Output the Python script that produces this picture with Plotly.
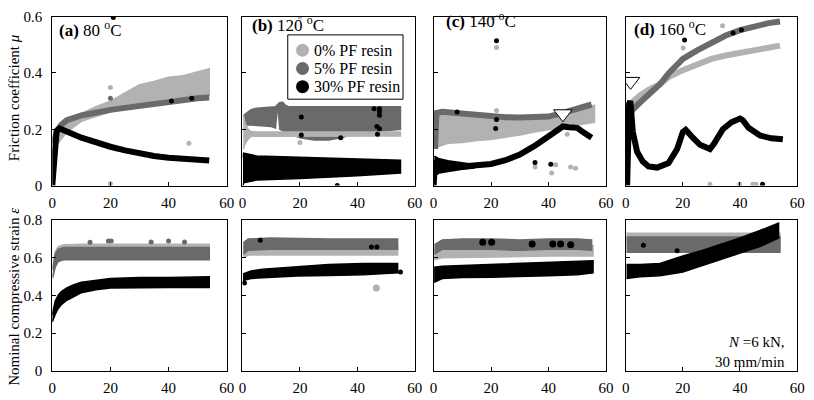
import plotly.graph_objects as go
from plotly.subplots import make_subplots

# ---------------- colours ----------------
C0 = "#b2b2b2"   # 0% PF resin
C5 = "#6a6a6a"   # 5% PF resin
C30 = "#000000"  # 30% PF resin

# ---------------- (a) 80 C friction ----------------
a0_t = [0.3, 1, 2, 5, 10, 15, 20, 25, 30, 35, 40, 45, 50, 54]
a0_hi = [0.16, 0.17, 0.19, 0.22, 0.256, 0.28, 0.30, 0.33, 0.358, 0.37, 0.385, 0.39, 0.405, 0.415]
a0_lo = [0.12, 0.13, 0.15, 0.19, 0.228, 0.245, 0.262, 0.275, 0.29, 0.30, 0.31, 0.315, 0.32, 0.32]
a5_t = [0.3, 1, 2, 3, 5, 10, 15, 20, 25, 30, 35, 40, 45, 50, 54]
a5_mu = [0.15, 0.18, 0.2, 0.215, 0.232, 0.249, 0.26, 0.269, 0.276, 0.283, 0.292, 0.30, 0.305, 0.31, 0.313]
a30_t = [0, 0.3, 0.8, 1.5, 2.5, 4, 6, 10, 15, 20, 25, 30, 35, 40, 45, 50, 54]
a30_mu = [0.0, 0.05, 0.15, 0.195, 0.203, 0.198, 0.188, 0.17, 0.152, 0.138, 0.125, 0.113, 0.105, 0.099, 0.095, 0.091, 0.089]
a_out0_t = [20, 33, 47, 47, 20]
a_out0 = [0.348, 0.338, 0.378, 0.15, 0.007]
a_out5_t = [20]
a_out5 = [0.31]
a_out30_t = [21, 41, 48]
a_out30 = [0.597, 0.30, 0.31]

# ---------------- (b) 120 C friction ----------------
b5_t = [0.5, 3, 5, 10, 11.5, 12, 12.5, 13, 14, 15, 16, 20, 25, 30, 35, 40, 50, 55]
b5_hi = [0.25, 0.27, 0.275, 0.278, 0.28, 0.285, 0.29, 0.295, 0.296, 0.285, 0.28, 0.28, 0.28, 0.28, 0.28, 0.28, 0.28, 0.28]
b5_lo = [0.215, 0.215, 0.215, 0.21, 0.205, 0.26, 0.265, 0.2, 0.195, 0.19, 0.185, 0.17, 0.162, 0.162, 0.172, 0.188, 0.195, 0.2]
b0_t = [0.3, 1, 2, 3, 5, 55]
b0_hi = [0.25, 0.22, 0.2, 0.192, 0.19, 0.19]
b0_lo = [0.13, 0.15, 0.165, 0.175, 0.176, 0.176]
b30_t = [0.2, 0.4, 5, 20, 40, 55]
b30_hi = [0.1, 0.115, 0.105, 0.1, 0.095, 0.09]
b30_lo = [0.0, 0.01, 0.02, 0.025, 0.035, 0.045]
b_out0_t = [20, 20]
b_out0 = [0.6, 0.153]
b_out30_t = [20.5, 20.5, 34.2, 45.8, 47.7, 47.7, 47.7, 46.8, 47.7, 47, 33]
b_out30 = [0.244, 0.18, 0.17, 0.273, 0.273, 0.262, 0.25, 0.21, 0.202, 0.182, 0.0]

# ---------------- (c) 140 C friction ----------------
c0_t = [1, 2, 5, 10, 15, 20, 25, 30, 35, 40, 45, 50, 56]
c0_hi = [0.25, 0.255, 0.25, 0.245, 0.24, 0.235, 0.232, 0.232, 0.233, 0.236, 0.25, 0.268, 0.285]
c0_lo = [0.13, 0.14, 0.15, 0.153, 0.16, 0.164, 0.172, 0.18, 0.19, 0.2, 0.207, 0.215, 0.225]
c5_t = [0.5, 0.6, 1, 3, 5, 10, 15, 20, 25, 30, 35, 40, 45, 50, 55]
c5_mu = [0.13, 0.2, 0.258, 0.262, 0.26, 0.255, 0.25, 0.246, 0.243, 0.242, 0.242, 0.245, 0.258, 0.272, 0.288]
c30b_t = [0.3, 2, 5, 10, 14]
c30b_hi = [0.105, 0.095, 0.088, 0.08, 0.075]
c30b_lo = [0.035, 0.045, 0.05, 0.058, 0.062]
c30_t = [0, 0.3, 0.6, 1, 2, 5, 10, 15, 20, 25, 30, 35, 40, 43, 45, 47, 50, 52, 55]
c30_mu = [0, 0.05, 0.09, 0.08, 0.075, 0.07, 0.068, 0.07, 0.077, 0.09, 0.11, 0.14, 0.175, 0.198, 0.21, 0.207, 0.205, 0.19, 0.17]
c_out0_t = [20.6, 21.9, 20.2, 29.7, 35.3, 41.1, 42.5, 47.7, 49.4, 46.5, 21.9]
c_out0 = [0.597, 0.49, 0.216, 0.19, 0.066, 0.045, 0.074, 0.066, 0.062, 0.182, 0.267]
c_out30_t = [21.9, 8.2, 21.9, 21.6, 35.3, 40.8]
c_out30 = [0.514, 0.261, 0.235, 0.203, 0.082, 0.076]

# ---------------- (d) 160 C friction ----------------
d0_t = [1.5, 2.5, 5, 8, 12, 15, 20, 25, 30, 35, 40, 45, 50, 54]
d0_mu = [0.285, 0.298, 0.32, 0.34, 0.36, 0.385, 0.41, 0.43, 0.45, 0.462, 0.472, 0.482, 0.492, 0.497]
d5_t = [1.5, 2.5, 5, 8, 12, 15, 20, 25, 30, 35, 40, 45, 50, 54]
d5_mu = [0.25, 0.27, 0.295, 0.325, 0.36, 0.398, 0.45, 0.48, 0.505, 0.533, 0.552, 0.567, 0.577, 0.583]
d30_t = [0.5, 0.8, 1.2, 1.6, 2.5, 4, 6, 8, 11, 15, 18, 20, 21, 23.5, 26, 29.5, 31, 34, 37, 40, 41, 43, 47, 51, 55]
d30_mu = [0.0, 0.2, 0.29, 0.3, 0.19, 0.12, 0.085, 0.068, 0.064, 0.08, 0.13, 0.19, 0.198, 0.17, 0.145, 0.13, 0.15, 0.2, 0.225, 0.238, 0.232, 0.205, 0.178, 0.168, 0.165]
d_out0_t = [33.9, 20.1, 29.5, 39.9, 44.5, 45.6]
d_out0 = [0.568, 0.489, 0.005, 0.005, 0.005, 0.005]
d_out30_t = [37.6, 40.5, 20.6, 47.9]
d_out30 = [0.542, 0.553, 0.517, 0.005]
tri_t = [45.0, 1.7]          # open triangles in (c) and (d)
tri_mu = [0.255, 0.37]

# ---------------- strain panels ----------------
as0_t = [0.2, 1, 2, 4, 10, 20, 30, 40, 54]
as0_hi = [0.55, 0.63, 0.66, 0.67, 0.672, 0.672, 0.672, 0.672, 0.672]
as0_lo = [0.49, 0.56, 0.6, 0.61, 0.61, 0.61, 0.61, 0.61, 0.61]
as5_t = [0.2, 1, 2, 4, 20, 40, 54]
as5_hi = [0.54, 0.62, 0.645, 0.655, 0.655, 0.655, 0.655]
as5_lo = [0.5, 0.55, 0.58, 0.59, 0.59, 0.59, 0.59]
as30_t = [0, 0.5, 1, 2, 3, 5, 7, 10, 15, 20, 30, 40, 54]
as30_hi = [0.3, 0.34, 0.37, 0.40, 0.42, 0.44, 0.455, 0.47, 0.48, 0.49, 0.495, 0.495, 0.5]
as30_lo = [0.26, 0.28, 0.3, 0.33, 0.35, 0.375, 0.39, 0.415, 0.43, 0.44, 0.443, 0.443, 0.443]
as_out5_t = [13, 19.3, 20.3, 34, 40, 45.5]
as_out5 = [0.683, 0.69, 0.69, 0.684, 0.69, 0.684]

bs0_t = [0.3, 2, 54]
bs0_hi = [0.66, 0.66, 0.66]
bs0_lo = [0.6, 0.615, 0.615]
bs5_t = [0.3, 2, 10, 30, 54]
bs5_hi = [0.68, 0.70, 0.705, 0.70, 0.70]
bs5_lo = [0.62, 0.64, 0.645, 0.645, 0.645]
bs30_t = [0.2, 3, 7, 19, 30, 42, 54]
bs30_hi = [0.515, 0.53, 0.54, 0.555, 0.565, 0.57, 0.57]
bs30_lo = [0.48, 0.49, 0.494, 0.504, 0.506, 0.51, 0.52]
bs_out0_t = [46.6]
bs_out0 = [0.44]
bs_out30_t = [6.2, 44.9, 46.8, 55, 0.7]
bs_out30 = [0.693, 0.657, 0.657, 0.525, 0.467]

cs0_t = [0.3, 3, 20, 40, 55.5]
cs0_hi = [0.64, 0.655, 0.655, 0.665, 0.665]
cs0_lo = [0.59, 0.6, 0.605, 0.61, 0.61]
cs5_t = [0.3, 3, 10, 20, 30, 40, 50, 55]
cs5_hi = [0.67, 0.695, 0.70, 0.70, 0.695, 0.70, 0.70, 0.695]
cs5_lo = [0.62, 0.645, 0.645, 0.645, 0.64, 0.645, 0.645, 0.64]
cs30_t = [0.2, 3, 10, 20, 30, 40, 50, 55.5]
cs30_hi = [0.55, 0.555, 0.56, 0.565, 0.57, 0.575, 0.58, 0.585]
cs30_lo = [0.47, 0.49, 0.495, 0.497, 0.5, 0.505, 0.51, 0.52]
cs_out30_t = [17.1, 20.2, 34.3, 41.5, 44.2, 47.7]
cs_out30 = [0.683, 0.683, 0.674, 0.674, 0.674, 0.669]

ds0_t = [0.3, 54]
ds0_hi = [0.73, 0.73]
ds0_lo = [0.69, 0.69]
ds5_t = [0.3, 54]
ds5_hi = [0.71, 0.71]
ds5_lo = [0.63, 0.63]
ds30_t = [0.3, 5, 12, 20, 27, 33, 40, 47, 53.5]
ds30_hi = [0.565, 0.565, 0.57, 0.61, 0.64, 0.67, 0.705, 0.745, 0.785]
ds30_lo = [0.49, 0.5, 0.505, 0.525, 0.56, 0.59, 0.625, 0.66, 0.705]
ds_out30_t = [6.2, 18]
ds_out30 = [0.667, 0.637]

legend_names = ["0% PF resin", "5% PF resin", "30% PF resin"]
x_ticks = [0, 20, 40, 60]
panel_labels = ["(a)", "(b)", "(c)", "(d)"]
panel_temps = ["80 <sup>o</sup>C", "120 <sup>o</sup>C", "140<sup>·o</sup>C", "160 <sup>o</sup>C"]

FONT = "Times New Roman, Liberation Serif, DejaVu Serif, serif"
W, H = 814, 400

fig = make_subplots(rows=2, cols=4)


def band(t, hi, lo, color, row, col):
    fig.add_trace(go.Scatter(x=list(t) + list(t)[::-1], y=list(hi) + list(lo)[::-1],
                             mode="lines", fill="toself", fillcolor=color,
                             line=dict(color=color, width=1.5), showlegend=False,
                             hoverinfo="skip"), row=row, col=col)


def line(t, y, color, row, col, width=6):
    fig.add_trace(go.Scatter(x=t, y=y, mode="lines", line=dict(color=color, width=width),
                             showlegend=False, hoverinfo="skip"), row=row, col=col)


def dots(t, y, color, row, col, size=5):
    fig.add_trace(go.Scatter(x=t, y=y, mode="markers",
                             marker=dict(color=color, size=size, line=dict(width=0)),
                             showlegend=False, hoverinfo="skip"), row=row, col=col)


# (a)
band(a0_t, a0_hi, a0_lo, C0, 1, 1)
line(a5_t, a5_mu, C5, 1, 1, 6)
line(a30_t, a30_mu, C30, 1, 1, 6)
dots(a_out0_t, a_out0, C0, 1, 1)
dots(a_out5_t, a_out5, C5, 1, 1)
dots(a_out30_t, a_out30, C30, 1, 1)
# (b)
band(b5_t, b5_hi, b5_lo, C5, 1, 2)
band(b0_t, b0_hi, b0_lo, C0, 1, 2)
band(b30_t, b30_hi, b30_lo, C30, 1, 2)
dots(b_out0_t, b_out0, C0, 1, 2)
dots(b_out30_t, b_out30, C30, 1, 2)
# (c)
band(c0_t, c0_hi, c0_lo, C0, 1, 3)
line(c5_t, c5_mu, C5, 1, 3, 6)
band(c30b_t, c30b_hi, c30b_lo, C30, 1, 3)
line(c30_t, c30_mu, C30, 1, 3, 6)
dots(c_out0_t, c_out0, C0, 1, 3)
dots(c_out30_t, c_out30, C30, 1, 3)
# (d)
line(d0_t, d0_mu, C0, 1, 4, 6)
line(d5_t, d5_mu, C5, 1, 4, 6)
line(d30_t, d30_mu, C30, 1, 4, 6)
dots(d_out0_t, d_out0, C0, 1, 4)
dots(d_out30_t, d_out30, C30, 1, 4)
# triangles
for i, col in enumerate([3, 4]):
    fig.add_trace(go.Scatter(x=[tri_t[i]], y=[tri_mu[i]], mode="markers",
                             marker=dict(symbol="triangle-down", size=16, color="white",
                                         line=dict(color="black", width=1)),
                             showlegend=False, hoverinfo="skip"), row=1, col=col)

# strain
band(as0_t, as0_hi, as0_lo, C0, 2, 1)
band(as5_t, as5_hi, as5_lo, C5, 2, 1)
band(as30_t, as30_hi, as30_lo, C30, 2, 1)
dots(as_out5_t, as_out5, C5, 2, 1)

band(bs0_t, bs0_hi, bs0_lo, C0, 2, 2)
band(bs5_t, bs5_hi, bs5_lo, C5, 2, 2)
band(bs30_t, bs30_hi, bs30_lo, C30, 2, 2)
dots(bs_out0_t, bs_out0, C0, 2, 2, 7)
dots(bs_out30_t, bs_out30, C30, 2, 2)

band(cs0_t, cs0_hi, cs0_lo, C0, 2, 3)
band(cs5_t, cs5_hi, cs5_lo, C5, 2, 3)
band(cs30_t, cs30_hi, cs30_lo, C30, 2, 3)
dots(cs_out30_t, cs_out30, C30, 2, 3, 7)

band(ds0_t, ds0_hi, ds0_lo, C0, 2, 4)
band(ds5_t, ds5_hi, ds5_lo, C5, 2, 4)
band(ds30_t, ds30_hi, ds30_lo, C30, 2, 4)
dots(ds_out30_t, ds_out30, C30, 2, 4)

# ---------------- layout ----------------
xdom = [(49, 226), (242, 417), (436, 611), (631, 805)]
ydom_top = (9, 185)
ydom_bot = (221, 378)

axis_common = dict(showline=True, linecolor="black", linewidth=1, mirror=True,
                   ticks="inside", ticklen=4, tickcolor="black", showgrid=False,
                   zeroline=False, tickfont=dict(family=FONT, size=15, color="black"))
lay = {}
for r in range(2):
    for c in range(4):
        n = r * 4 + c + 1
        sx = "xaxis" if n == 1 else f"xaxis{n}"
        sy = "yaxis" if n == 1 else f"yaxis{n}"
        yd = ydom_top if r == 0 else ydom_bot
        lay[sx] = dict(axis_common, domain=[xdom[c][0] / W, xdom[c][1] / W], range=[0, 60],
                       tickvals=x_ticks, ticklabelstandoff=3)
        lay[sy] = dict(axis_common, domain=[1 - yd[1] / H, 1 - yd[0] / H],
                       range=[0, 0.6] if r == 0 else [0, 0.8], dtick=0.2,
                       showticklabels=(c == 0), ticklabelstandoff=6)
fig.update_layout(**lay)

annotations = []
lab_pos = [(54, 22), (250, 17), (447, 12), (637, 21)]
for i in range(4):
    annotations.append(dict(xref="paper", yref="paper", x=lab_pos[i][0] / W, y=1 - lab_pos[i][1] / H,
                            xanchor="left", yanchor="middle", showarrow=False,
                            text=f"<b>{panel_labels[i]}</b> {panel_temps[i]}",
                            font=dict(family=FONT, size=17, color="black")))
annotations.append(dict(xref="paper", yref="paper", x=10 / W, y=1 - 93 / H, textangle=-90,
                        showarrow=False, xanchor="center", yanchor="middle",
                        text="Friction coefficient <i>μ</i>",
                        font=dict(family=FONT, size=15, color="black")))
annotations.append(dict(xref="paper", yref="paper", x=10 / W, y=1 - 301 / H, textangle=-90,
                        showarrow=False, xanchor="center", yanchor="middle",
                        text="Nominal compressive strain <i>ε</i>",
                        font=dict(family=FONT, size=15, color="black")))
annotations.append(dict(xref="paper", yref="paper", x=795 / W, y=1 - 358 / H, align="right",
                        showarrow=False, xanchor="right", yanchor="middle",
                        text="<i>N</i> =6 kN,<br>30 mm/min",
                        font=dict(family=FONT, size=15, color="black")))

# legend box drawn in panel (b)
shapes = [dict(type="rect", xref="paper", yref="paper", x0=288 / W, x1=405 / W,
               y0=1 - 95 / H, y1=1 - 28 / H, line=dict(color="black", width=1),
               fillcolor="white", layer="above")]
leg_rows = [44, 63, 82]
for name, c, yy in zip(legend_names, [C0, C5, C30], leg_rows):
    shapes.append(dict(type="circle", xref="paper", yref="paper", xsizemode="pixel",
                       ysizemode="pixel", xanchor=303 / W, yanchor=1 - yy / H,
                       x0=-6.5, x1=6.5, y0=-6.5, y1=6.5, fillcolor=c,
                       line=dict(color=c, width=0), layer="above"))
    annotations.append(dict(xref="paper", yref="paper", x=313 / W, y=1 - yy / H,
                            xanchor="left", yanchor="middle", showarrow=False, text=name,
                            font=dict(family=FONT, size=16, color="black")))

fig.update_layout(
    width=W, height=H, margin=dict(l=0, r=0, t=0, b=0),
    paper_bgcolor="white", plot_bgcolor="white",
    annotations=annotations, shapes=shapes,
    showlegend=False,
)

fig.write_html("out.html", config={"displayModeBar": False},
               post_script="document.body.style.margin='0px';document.body.style.overflow='hidden';")
